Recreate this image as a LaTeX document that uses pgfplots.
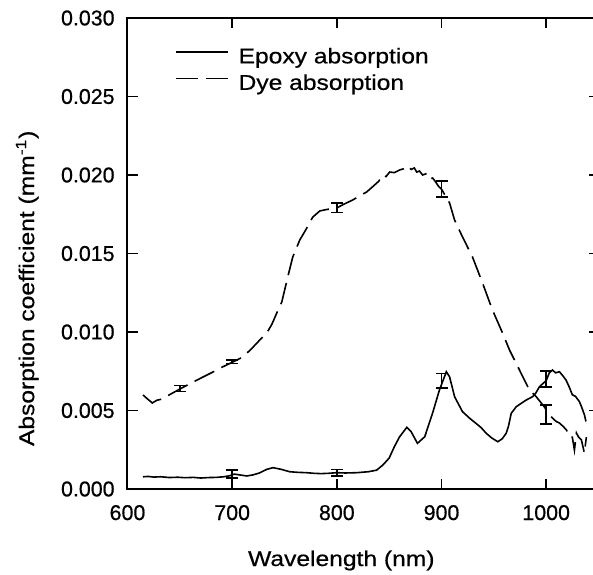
\documentclass[border=0pt]{standalone}
\usepackage{pgfplots}
\pgfplotsset{compat=1.18}
\usepackage{fontspec}
\setmainfont[FakeBold=0.6]{Liberation Sans}
\newfontfamily\labelfont[FakeStretch=1.15,FakeBold=0.6]{Liberation Sans}

\begin{document}
\begin{tikzpicture}
\begin{axis}[
  scale only axis,
  width=235.5pt, height=235.5pt,
  xmin=600, xmax=1050,
  ymin=0, ymax=0.030,
  xtick={600,700,800,900,1000},
  ytick={0,0.005,0.010,0.015,0.020,0.025,0.030},
  tick align=inside,
  major tick length=5pt,
  every tick/.style={black, line width=0.9pt},
  axis line style={line width=1pt},
  /pgf/number format/assume math mode=true,
  scaled y ticks=false,
  yticklabel style={/pgf/number format/fixed, /pgf/number format/fixed zerofill, /pgf/number format/precision=3, font=\fontsize{10.7}{12}\selectfont, anchor=east, inner sep=0pt, xshift=-6.25pt},
  xticklabel style={/pgf/number format/1000 sep={}, font=\fontsize{10.7}{12}\selectfont, anchor=base, inner sep=0pt, yshift=-15.5pt},
  xlabel={Wavelength (nm)},
  ylabel={Absorption coefficient (mm\textsuperscript{-1})},
  label style={font=\labelfont\fontsize{10.7}{12}\selectfont},
  xlabel style={at={(axis description cs:0.454,0)}, anchor=base, inner sep=0pt, yshift=-38.5pt},
  ylabel style={at={(axis description cs:-0.213,0.426)}, anchor=center, inner sep=0pt},
  legend style={at={(axis description cs:0.1,0.946)}, anchor=north west, draw=none, fill=none, font=\labelfont\fontsize{10.7}{12}\selectfont, row sep=0pt, column sep=3pt, inner sep=0pt},
  legend cell align=left,
  legend image code/.code={\draw[#1] (0pt,2.5pt) -- (26pt,2.5pt);},
]
% Epoxy absorption (solid)
\addplot[black, line width=0.8pt] coordinates {
(614.8,0.00078) (620,0.00080) (625,0.00076) (632,0.00078) (640,0.00073) (648,0.00075) (655,0.00072) (663,0.00074) (670,0.00070) (678,0.00073) (685,0.00074) (692,0.00078) (698,0.00085) (702,0.00095) (707,0.00090) (714,0.00083) (720,0.00090) (726,0.00102) (733,0.00125) (739,0.00136) (747,0.00125) (755,0.00110) (763,0.00106) (771,0.00104) (778,0.00100) (785,0.00098) (792,0.00100) (800,0.00104) (808,0.00102) (819,0.00104) (830,0.00110) (838,0.00120) (844,0.00153) (850,0.00197) (855,0.00270) (860,0.00333) (866.9,0.00393) (871,0.00365) (877,0.00291) (884,0.00333) (891.5,0.00484) (898,0.00630) (904.6,0.00747) (907.7,0.00715) (912.5,0.00588) (920,0.00493) (927,0.00450) (933,0.00418) (938,0.00390) (942.7,0.00355) (948,0.00325) (953.8,0.00301) (958,0.00320) (961.8,0.00355) (964,0.00400) (966.6,0.00482) (971.4,0.00524) (976,0.00545) (981,0.00567) (987,0.00588) (990,0.00610) (993.6,0.00652) (1000,0.00690) (1003,0.00740) (1006,0.00758) (1009,0.00740) (1012.7,0.00747) (1016,0.00720) (1019,0.00694) (1022,0.00650) (1025,0.00600) (1028,0.00590) (1031.8,0.00556) (1034,0.00520) (1036.6,0.00471) (1038,0.00430)
};
\addlegendentry{Epoxy absorption}
% Dye absorption (dashed)
\addplot[black, line width=0.8pt, dash pattern=on 11pt off 4pt] coordinates {
(614.8,0.00599) (618,0.00580) (623.7,0.00548) (628,0.00565) (632.9,0.00573) (640,0.00600) (650.1,0.00637) (660,0.00672) (672,0.00713) (681.6,0.00745) (690,0.00775) (700.7,0.00809) (710.2,0.00841) (718,0.00890) (726.4,0.00949) (733.1,0.00994) (738,0.01050) (742.6,0.01121) (747.4,0.01191) (753.1,0.01350) (757.9,0.01478) (764.6,0.01586) (771.3,0.01662) (777.0,0.01732) (783.7,0.01771) (790,0.01780) (799.9,0.01790) (807,0.01815) (815.2,0.01841) (820,0.01860) (828.5,0.01892) (835,0.01930) (840,0.01960) (843.8,0.02000) (847,0.01990) (850.5,0.02019) (855,0.02015) (860,0.02032) (864,0.02040) (867.7,0.02057) (871,0.02035) (874,0.02045) (876.3,0.02019) (879,0.02025) (882,0.02000) (886,0.02010) (889,0.01975) (891.5,0.01981) (894,0.01960) (897,0.01930) (900,0.01910) (904.9,0.01854) (907.7,0.01822) (912.5,0.01713) (920.1,0.01605) (929.6,0.01478) (939.2,0.01312) (948.7,0.01140) (958.3,0.00994) (965,0.00885) (974.5,0.00758) (984,0.00631) (990.7,0.00586) (998.4,0.00522) (1002,0.00480) (1006,0.00452) (1009.6,0.00430) (1012.7,0.00420) (1016,0.00400) (1019.4,0.00376) (1022.2,0.00331) (1025,0.00330) (1027,0.00248) (1028.9,0.00357) (1031,0.00330) (1033.7,0.00312) (1036.5,0.00229) (1038.4,0.00331)
};
\addlegendentry{Dye absorption}
% Error bars, epoxy
\addplot[draw=none, mark=none, forget plot,
  error bars/.cd, y dir=both, y explicit,
  error bar style={draw=black, solid, line width=0.8pt},
  error mark options={draw=black, solid, rotate=90, mark size=3pt, line width=0.8pt}]
  coordinates {
  (700,0.00095) +- (0,0.00025)
  (800,0.00104) +- (0,0.00020)
  (900,0.00690) +- (0,0.00045)
  (1000,0.00700) +- (0,0.00050)
};
% Error bars, dye
\addplot[draw=none, mark=none, forget plot,
  error bars/.cd, y dir=both, y explicit,
  error bar style={draw=black, solid, line width=0.8pt},
  error mark options={draw=black, solid, rotate=90, mark size=3pt, line width=0.8pt}]
  coordinates {
  (650,0.00640) +- (0,0.00020)
  (700,0.00810) +- (0,0.00010)
  (800,0.01790) +- (0,0.00030)
  (900,0.01910) +- (0,0.00050)
  (1000,0.00475) +- (0,0.00062)
};
\end{axis}
\pgfresetboundingbox
\path (-63.75pt,-42.5pt) rectangle (232.75pt,244.5pt);
\end{tikzpicture}
\end{document}
